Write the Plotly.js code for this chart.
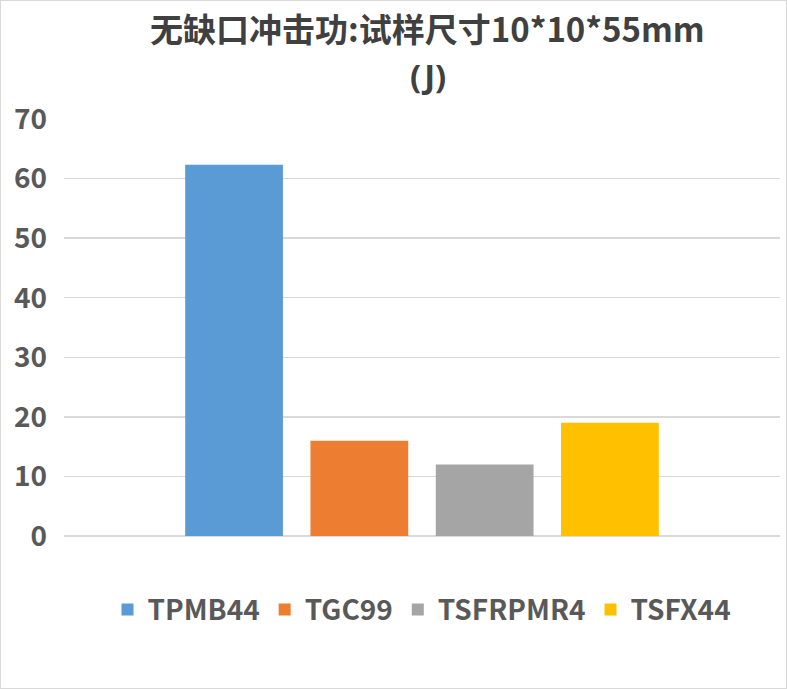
<!DOCTYPE html>
<html>
<head>
<meta charset="utf-8">
<script src="https://cdn.plot.ly/plotly-3.0.1.min.js"></script>
<style>
html,body{margin:0;padding:0;background:#fff;}
#chart{width:785px;height:687px;border:1px solid #d9d9d9;}
</style>
</head>
<body>
<div id="chart"></div>
<script>
const category = ['样品'];
const seriesNames = ['TPMB44', 'TGC99', 'TSFRPMR4', 'TSFX44'];
const seriesValues = [62.3, 16, 12, 19];
const seriesColors = ['#5b9bd5', '#ed7d31', '#a5a5a5', '#ffc000'];
const yTicks = [0, 10, 20, 30, 40, 50, 60, 70];
const titleLines = ['无缺口冲击功:试样尺寸10*10*55mm', '(J)'];

const font = '"Noto Sans CJK SC", "Noto Sans", sans-serif';
const latinFont = '"Noto Sans", sans-serif';
const traces = seriesNames.map((n, i) => ({
  type: 'bar',
  name: '<b>' + n + '</b>',
  x: category,
  y: [seriesValues[i]],
  marker: {color: seriesColors[i]},
  hoverinfo: 'none'
}));

const titleY = [1.218, 1.1055];
const titleFonts = [font, latinFont];
const layout = {
  width: 785,
  height: 687,
  margin: {l: 63, r: 6, t: 118, b: 152},
  paper_bgcolor: '#ffffff',
  plot_bgcolor: '#ffffff',
  barmode: 'group',
  bargap: 0.30,
  bargroupgap: 0.22,
  showlegend: true,
  annotations: titleLines.map((t, i) => ({
    text: '<b>' + t + '</b>',
    xref: 'paper', yref: 'paper',
    x: 0.508, xanchor: 'center',
    y: titleY[i], yanchor: 'middle',
    showarrow: false,
    font: {family: titleFonts[i], size: 33, color: '#404040'}
  })),
  xaxis: {
    showticklabels: false,
    showgrid: false,
    zeroline: false,
    showline: false,
    ticks: ''
  },
  yaxis: {
    range: [0, 70],
    tickvals: yTicks,
    ticktext: yTicks.map(v => '<b>' + v + '</b>'),
    tickfont: {family: font, size: 28, color: '#595959'},
    showgrid: true,
    gridcolor: '#d9d9d9',
    gridwidth: 1.5,
    zeroline: true,
    zerolinecolor: '#d9d9d9',
    zerolinewidth: 1.5,
    showline: false,
    ticks: '',
    ticklabelstandoff: 16
  },
  legend: {
    orientation: 'h',
    x: 0.5, xanchor: 'center',
    y: -0.177, yanchor: 'middle',
    font: {family: font, size: 28, color: '#595959'},
    itemwidth: 30,
    traceorder: 'normal'
  }
};
Plotly.newPlot('chart', traces, layout, {displayModeBar: false, staticPlot: true});
</script>
</body>
</html>
